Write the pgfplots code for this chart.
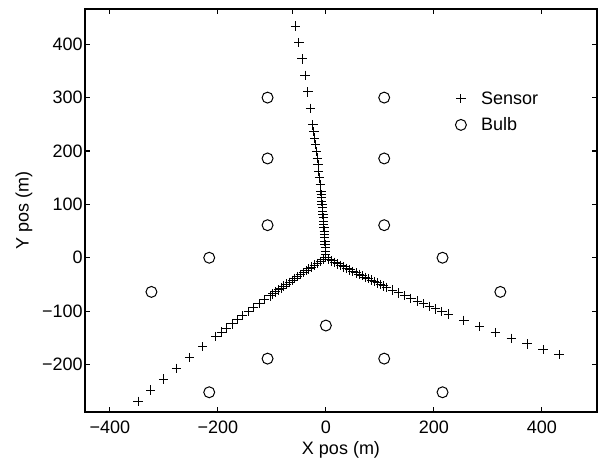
\documentclass[border=0pt]{standalone}
\usepackage{fontspec}
\setmainfont{Liberation Sans}
\usepackage{pgfplots}
\pgfplotsset{compat=1.18}

% sensor positions along the three arms (m)
\pgfplotstableread{
x y
0 0
-0.3 6.2
-0.7 12.5
-1.0 18.7
-1.4 25.0
-1.8 31.2
-2.2 37.4
-2.6 43.7
-3.1 49.9
-3.5 56.1
-4.0 62.4
-4.4 68.6
-4.9 74.8
-5.4 81.1
-5.9 87.3
-6.4 93.5
-7.0 99.8
-7.5 106.0
-8.1 112.2
-8.7 118.4
-9.3 124.7
-10.5 137.1
-11.8 149.5
-13.1 162.0
-14.5 174.4
-15.9 186.8
-17.4 199.2
-19.0 211.7
-20.6 224.1
-22.3 236.5
-24.0 248.9
-28.5 279.8
-33.3 310.7
-38.5 341.6
-44.1 372.4
-50.0 403.2
-56.2 433.9
-62.7 464.5
5.6 -2.9
11.1 -5.8
16.7 -8.6
22.2 -11.5
27.8 -14.3
33.4 -17.1
39.0 -19.9
44.6 -22.7
50.2 -25.5
55.8 -28.3
61.4 -31.0
67.0 -33.8
72.6 -36.5
78.2 -39.2
83.9 -41.9
89.5 -44.6
95.2 -47.3
100.8 -50.0
106.5 -52.7
112.1 -55.3
123.5 -60.6
134.8 -65.8
146.2 -70.9
157.6 -76.0
169.1 -81.1
180.5 -86.1
192.0 -91.1
203.5 -96.0
215.0 -100.8
226.6 -105.7
255.5 -117.4
284.6 -129.0
313.8 -140.1
343.2 -151.0
372.6 -161.5
402.3 -171.8
431.9 -181.7
-5.2 -3.5
-10.5 -6.9
-15.7 -10.4
-20.9 -13.9
-26.1 -17.4
-31.3 -20.9
-36.5 -24.5
-41.7 -28.0
-46.9 -31.6
-52.0 -35.1
-57.2 -38.7
-62.4 -42.3
-67.5 -45.9
-72.7 -49.5
-77.8 -53.1
-82.9 -56.7
-88.0 -60.4
-93.1 -64.0
-98.2 -67.7
-103.3 -71.4
-113.5 -78.7
-123.6 -86.2
-133.7 -93.6
-143.8 -101.2
-153.8 -108.7
-163.8 -116.3
-173.8 -124.0
-183.7 -131.7
-193.6 -139.4
-203.5 -147.2
-228.1 -166.8
-252.4 -186.8
-276.5 -206.9
-300.5 -227.4
-324.2 -248.0
-347.7 -269.1
-371.0 -290.2
}\sensors

\pgfplotstableread{
x y
-108 300
108 300
-108 186
108 186
-108 61
108 61
-216 0
216 0
-323 -64
323 -64
0 -127
-108 -189
108 -189
-216 -252
216 -252
}\bulbs

\begin{document}
\begin{tikzpicture}
\begin{axis}[
  scale only axis, width=384pt, height=302.25pt,
  xmin=-446, xmax=502, ymin=-289, ymax=466,
  xtick={-400,-200,0,200,400},
  xticklabels={−400,−200,0,200,400},
  ytick={-200,-100,0,100,200,300,400},
  yticklabels={−200,−100,0,100,200,300,400},
  xtick pos=both, ytick pos=both,
  tick align=inside, major tick length=3.75pt,
  axis line style={line width=0.9pt},
  every tick/.style={black, line width=0.8pt},
  font=\fontsize{13.5}{16}\selectfont,
  xticklabel style={yshift=-3.5pt},
  yticklabel style={inner sep=1.5pt},
  xlabel={X pos (m)}, ylabel={Y pos (m)},
  xlabel style={at={(axis description cs:0.5,-0.094)}, anchor=center},
  ylabel style={at={(axis description cs:-0.119,0.5)}, anchor=center},
  clip marker paths=true,
  legend style={draw=none, fill=none, at={(axis cs:232,322)}, anchor=north west,
    font=\fontsize{13.5}{16}\selectfont, row sep=4.5pt, column sep=9pt},
  legend cell align=left,
]
\addplot[only marks, mark=+, mark size=3.5pt, black, line width=0.75pt] table {\sensors};
\addlegendentry{Sensor}
\addplot[only marks, mark=o, mark size=4.1pt, black, line width=0.75pt] table {\bulbs};
\addlegendentry{Bulb}
\end{axis}
\path ([shift={(-63.75pt,-37.5pt)}]current axis.south west) rectangle ([shift={(1.5pt,6.75pt)}]current axis.north east);
\end{tikzpicture}
\end{document}
